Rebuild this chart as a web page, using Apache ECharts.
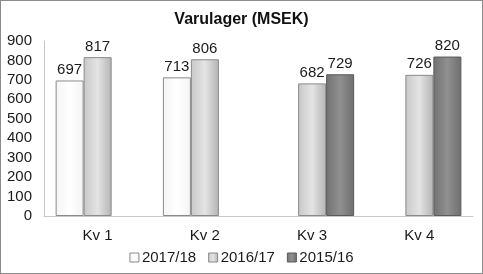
<!DOCTYPE html>
<html>
<head>
<meta charset="utf-8">
<script src="https://cdn.jsdelivr.net/npm/echarts@6/dist/echarts.min.js"></script>
<style>
  html, body { margin: 0; padding: 0; background: #fff; }
  #chart { width: 481px; height: 272px; border: 1px solid #8c8c8c; }
</style>
</head>
<body>
<div id="chart"></div>
<script>
(function() {
  var categories = ['Kv 1', 'Kv 2', 'Kv 3', 'Kv 4'];
  var seriesNames = ['2017/18', '2016/17', '2015/16'];
  var v201718 = [697, 713, null, null];
  var v201617 = [817, 806, 682, 726];
  var v201516 = [null, null, 729, 820];

  var font = '"Liberation Sans", Arial, sans-serif';

  function grad(a, b, c) {
    return new echarts.graphic.LinearGradient(0, 0, 1, 0, [
      { offset: 0, color: a },
      { offset: 0.5, color: b },
      { offset: 1, color: c }
    ]);
  }

  var fills = [
    grad('#f4f4f4', '#ffffff', '#f4f4f4'),
    grad('#c8c8c8', '#e4e4e4', '#b4b4b4'),
    grad('#727272', '#909090', '#6e6e6e')
  ];
  var borders = ['#8a8a8a', '#8a8a8a', '#5a5a5a'];
  var values = [v201718, v201617, v201516];

  var chart = echarts.init(document.getElementById('chart'), null, { renderer: 'canvas' });

  var series = seriesNames.map(function(name, i) {
    return {
      name: name,
      type: 'bar',
      data: values[i],
      barWidth: 28,
      barGap: '0%',
      itemStyle: { color: fills[i], borderColor: borders[i], borderWidth: 1 },
      label: {
        show: true,
        position: 'top',
        distance: 3,
        color: '#1a1a1a',
        fontFamily: font,
        fontSize: 15
      }
    };
  });

  chart.setOption({
    animation: false,
    title: {
      text: 'Varulager (MSEK)',
      left: 'center',
      top: 6,
      textStyle: { fontFamily: font, fontSize: 16, fontWeight: 'bold', color: '#111' }
    },
    legend: {
      data: seriesNames.map(function(n, i) {
        return { name: n, itemStyle: { color: fills[i], borderColor: borders[i], borderWidth: 1 } };
      }),
      bottom: 3,
      left: 'center',
      itemWidth: 9,
      itemHeight: 9,
      itemGap: 12,
      icon: 'rect',
      textStyle: { fontFamily: font, fontSize: 15, color: '#1a1a1a', padding: [0, 0, 0, -2] }
    },
    grid: { left: 43, right: 9, top: 40, bottom: 57 },
    xAxis: {
      type: 'category',
      data: categories,
      axisLine: { lineStyle: { color: '#c8c8c8' } },
      axisTick: { show: false },
      axisLabel: { fontFamily: font, fontSize: 15, color: '#1a1a1a', margin: 12 }
    },
    yAxis: {
      type: 'value',
      min: 0,
      max: 900,
      interval: 100,
      axisLine: { show: true, lineStyle: { color: '#c8c8c8' } },
      axisTick: { show: false },
      splitLine: { show: false },
      axisLabel: { fontFamily: font, fontSize: 15, color: '#1a1a1a', margin: 12 }
    },
    series: series
  });
})();
</script>
</body>
</html>
